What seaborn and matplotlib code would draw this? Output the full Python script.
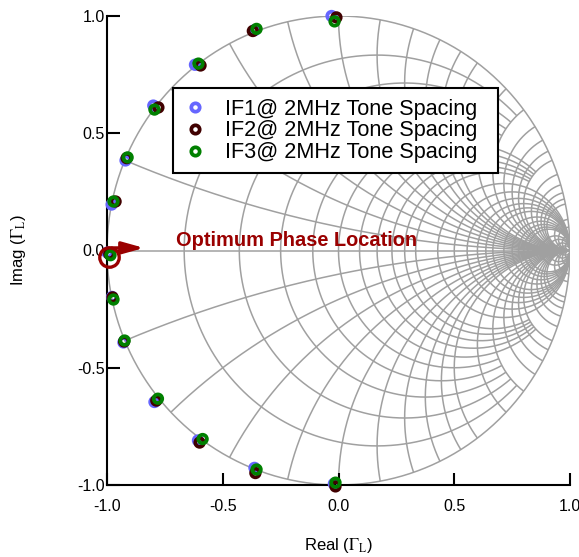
import numpy as np
import pandas as pd
import matplotlib
matplotlib.use("Agg")
import matplotlib.pyplot as plt
from matplotlib.lines import Line2D
from matplotlib.patches import Rectangle
import seaborn as sns

# 三組量測資料 (反射係數 Γ_L 的實部與虛部)
series_names = ["IF1@ 2MHz Tone Spacing", "IF2@ 2MHz Tone Spacing", "IF3@ 2MHz Tone Spacing"]
series_colors = ["#6666ff", "#400000", "#008000"]

if1_real = [-0.030, -0.362, -0.620, -0.800, -0.920, -0.980, -0.998, -0.978, -0.929, -0.795, -0.607, -0.363, -0.020]
if1_imag = [1.000, 0.940, 0.792, 0.618, 0.384, 0.196, -0.009, -0.198, -0.392, -0.646, -0.810, -0.927, -0.995]

if2_real = [-0.009, -0.370, -0.596, -0.778, -0.915, -0.963, -0.990, -0.976, -0.926, -0.787, -0.600, -0.359, -0.013]
if2_imag = [0.994, 0.936, 0.789, 0.610, 0.394, 0.209, -0.015, -0.200, -0.388, -0.640, -0.819, -0.949, -1.006]

if3_real = [-0.017, -0.354, -0.605, -0.795, -0.911, -0.972, -0.985, -0.972, -0.924, -0.780, -0.587, -0.354, -0.013]
if3_imag = [0.977, 0.945, 0.797, 0.601, 0.397, 0.209, -0.020, -0.209, -0.384, -0.632, -0.804, -0.934, -0.990]

# 最佳相位位置
opt_real = -0.991
opt_imag = -0.026

tick_values = [-1.0, -0.5, 0.0, 0.5, 1.0]

# Smith chart 格線: 電阻圓 (r 值, |x| 截斷) 與電抗弧 (x 值, 畫到 r 無限大)
r_bands = [
    ([0.2, 0.4, 0.6, 0.8, 1.0], 3.0),
    ([1.2, 1.4, 1.6, 1.8, 2.0], 5.0),
    ([2.5, 3.0, 3.5, 4.0, 4.5, 5.0, 6.0, 7.0, 8.0, 9.0, 10.0, 15.0, 20.0, 30.0, 50.0], 1e4),
]
x_values = [0.2, 0.4, 0.6, 0.8, 1.0, 1.2, 1.4, 1.6, 1.8, 2.0,
            2.5, 3.0, 3.5, 4.0, 4.5, 5.0, 6.0, 7.0, 8.0, 9.0, 10.0, 15.0, 20.0, 30.0, 50.0]

plt.rcParams["font.family"] = ["Liberation Sans", "DejaVu Sans"]
plt.rcParams["mathtext.fontset"] = "stix"
plt.rcParams["axes.unicode_minus"] = False

GRID_COLOR = "#a0a0a0"
DARK_RED = "#9a0000"


def gamma(z):
    return (z - 1) / (z + 1)


def draw_smith_grid(ax):
    kw = dict(color=GRID_COLOR, lw=1.1, zorder=1, solid_capstyle="butt")
    # 外圈 (r = 0) 與實軸
    t = np.linspace(0, 2 * np.pi, 721)
    ax.plot(np.cos(t), np.sin(t), **kw)
    ax.plot([-1, 1], [0, 0], **kw)
    for values, limit in r_bands:
        for v in values:
            s = np.sinh(np.linspace(-1, 1, 1200) * np.arcsinh(limit))
            g = gamma(v + 1j * s)
            ax.plot(g.real, g.imag, **kw)
    r = np.expm1(np.linspace(0, np.log1p(1e4), 1500))
    for v in x_values:
        for sign in (1, -1):
            g = gamma(r + 1j * sign * v)
            ax.plot(g.real, g.imag, **kw)


df = pd.concat([
    pd.DataFrame({"real": if1_real, "imag": if1_imag, "series": series_names[0]}),
    pd.DataFrame({"real": if2_real, "imag": if2_imag, "series": series_names[1]}),
    pd.DataFrame({"real": if3_real, "imag": if3_imag, "series": series_names[2]}),
], ignore_index=True)

fig = plt.figure(figsize=(5.79, 5.57), dpi=100)
ax = fig.add_axes([107 / 579, 1 - 485 / 557, 463 / 579, 469 / 557])

draw_smith_grid(ax)

# 資料點 (空心圓)
sns.scatterplot(data=df, x="real", y="imag", hue="series", palette=series_colors,
                hue_order=series_names, s=38, legend=False, ax=ax, zorder=5, clip_on=False)
pts = ax.collections[-1]
fc = pts.get_facecolors()
pts.set_edgecolors(fc)
pts.set_facecolors("none")
pts.set_linewidths(2.7)

# 最佳相位位置標示
ax.plot([opt_real], [opt_imag], marker="o", ms=14, mfc="none", mec=DARK_RED, mew=2.4,
        ls="none", zorder=6, clip_on=False)
ax.annotate("", xy=(-0.84, 0.011), xytext=(-0.978, 0.011),
            arrowprops=dict(arrowstyle="-|>,head_length=1.0,head_width=0.28", color=DARK_RED,
                            lw=2.4, shrinkA=0, shrinkB=0, mutation_scale=13), zorder=6)
ax.text(-0.702, 0.043, "Optimum Phase Location", color=DARK_RED, fontsize=14.4,
        fontweight="bold", ha="left", va="center", zorder=6)

# 座標軸
ax.set_xlim(-1, 1)
ax.set_ylim(-1, 1)
ax.set_xticks(tick_values)
ax.set_yticks(tick_values)
ax.set_xticklabels([f"{v:.1f}" for v in tick_values])
ax.set_yticklabels([f"{v:.1f}" for v in tick_values])
ax.tick_params(direction="in", length=9, width=1.5, labelsize=11.5, color="black")
ax.tick_params(axis="x", pad=10)
ax.tick_params(axis="y", pad=1.5)
for side in ("top", "right"):
    ax.spines[side].set_visible(False)
for side in ("left", "bottom"):
    ax.spines[side].set_linewidth(1.5)
    ax.spines[side].set_zorder(4)

ax.set_xlabel(r"Real ($\Gamma_{\mathrm{L}}$)", fontsize=12)
ax.set_ylabel(r"Imag ($\Gamma_{\mathrm{L}}$)", fontsize=12)
ax.xaxis.set_label_coords(0.5, -0.108)
ax.yaxis.set_label_coords(-0.17, 0.5)

# 圖例 (外框另外畫)
frame = Rectangle((173 / 579, 1 - 173 / 557), 325 / 579, 85 / 557, transform=fig.transFigure,
                  facecolor="white", edgecolor="black", lw=1.5, zorder=9)
fig.patches.append(frame)
handles = [Line2D([], [], ls="none", marker="o", ms=6, mfc="none", mec=c, mew=2.7)
           for c in series_colors]
leg = fig.legend(handles, series_names, loc="upper left",
                 bbox_to_anchor=(173 / 579, 1 - 88 / 557), borderaxespad=0, fontsize=15.6,
                 frameon=False, handlelength=1.0, handletextpad=0.92,
                 labelspacing=0.03, borderpad=0.5)
leg.set_zorder(10)

fig.savefig("out.png", dpi=100)
